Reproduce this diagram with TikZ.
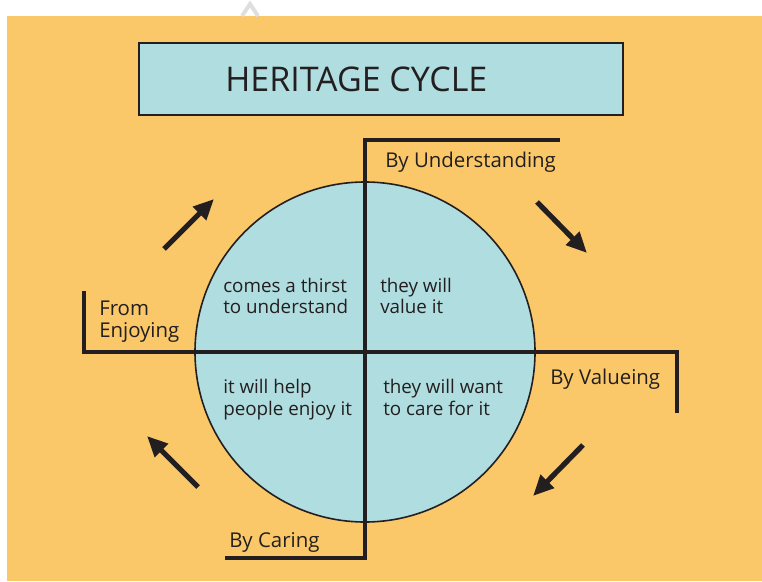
\documentclass[tikz,border=0pt]{standalone}
\usepackage{fontspec}
\setmainfont{Open Sans}
\usetikzlibrary{arrows.meta}
\definecolor{bgorange}{RGB}{250,200,104}
\definecolor{cblue}{RGB}{176,221,224}
\definecolor{ink}{RGB}{35,31,32}
\begin{document}
\begin{tikzpicture}[x=0.75pt,y=-0.75pt,
  bracket/.style={draw=ink, line width=2.4pt},
  lbl/.style={font=\fontsize{15.3}{18}\selectfont, text=ink, inner sep=0pt, anchor=base west},
  quad/.style={font=\fontsize{14.1}{16.5}\selectfont, text=ink, inner sep=0pt, anchor=base west},
  arr/.style={draw=ink, line width=3.9pt, -{Triangle[length=15.5pt,width=13.5pt]}}]
\useasboundingbox (0,0) rectangle (762,581);
\fill[white] (0,0) rectangle (762,581);
\fill[bgorange] (7,16) rectangle (762,581);
\draw[gray!25, line width=3pt] (242,16) -- (250,4) -- (258,16);
% title
\node[draw=ink, line width=1.2pt, fill=cblue, minimum width=363pt, minimum height=54pt, inner sep=0pt] (titlebox) at (381,79) {};
\node[font=\fontsize{25.5}{29}\selectfont, text=ink, inner sep=0pt, anchor=base west] (title) at (225,92) {HERITAGE CYCLE};
% circle
\node[circle, draw=ink, fill=cblue, line width=1.2pt, minimum size=255pt, inner sep=0pt] (wheel) at (365,352) {};
% brackets
\coordinate (uend) at (560,140);
\coordinate (utop) at (365,140);
\coordinate (cbot) at (365,558);
\coordinate (cend) at (225,558);
\coordinate (etop) at (84,291);
\coordinate (eleft) at (84,352);
\coordinate (vright) at (677,352);
\coordinate (vend) at (677,413);
\draw[bracket] (uend) -- (utop) -- (cbot) -- (cend);
\draw[bracket] (etop) -- (eleft) -- (vright) -- (vend);
% outer labels
\node[lbl] (under) at (385,167) {By Understanding};
\node[lbl] (value) at (550,384) {By Valueing};
\node[lbl] (caring) at (229,547) {By Caring};
\node[lbl] (from1) at (99,315) {From};
\node[lbl] (from2) at (99,337) {Enjoying};
% quadrant texts
\node[quad] (q1a) at (223,292) {comes a thirst};
\node[quad] (q1b) at (223,313) {to understand};
\node[quad] (q2a) at (380,292) {they will};
\node[quad] (q2b) at (380,313) {value it};
\node[quad] (q3a) at (223,393) {it will help};
\node[quad] (q3b) at (223,415) {people enjoy it};
\node[quad] (q4a) at (383,393) {they will want};
\node[quad] (q4b) at (383,415) {to care for it};
% arrows
\coordinate (a1s) at (164,249); \coordinate (a1e) at (214,199);
\coordinate (a2s) at (537,202); \coordinate (a2e) at (587,253);
\coordinate (a3s) at (583,445); \coordinate (a3e) at (533,496);
\coordinate (a4s) at (198,487); \coordinate (a4e) at (147,436);
\draw[arr] (a1s) -- (a1e);
\draw[arr] (a2s) -- (a2e);
\draw[arr] (a3s) -- (a3e);
\draw[arr] (a4s) -- (a4e);
\end{tikzpicture}
\end{document}
